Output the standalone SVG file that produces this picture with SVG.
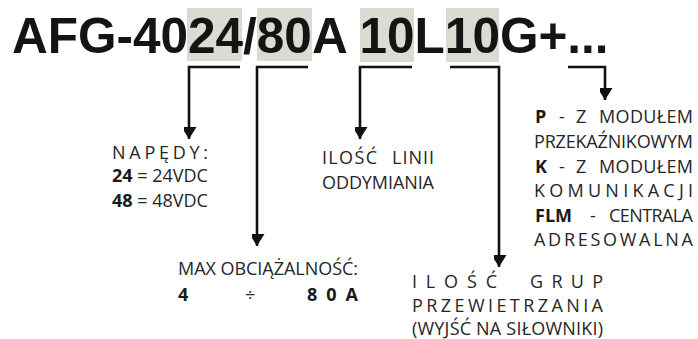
<svg xmlns="http://www.w3.org/2000/svg" width="698" height="339" viewBox="0 0 698 339">
  <defs>
    <marker id="arr" markerUnits="userSpaceOnUse" markerWidth="16" markerHeight="13" refX="12" refY="7.5" orient="auto">
      <path d="M0,0 L12,7.5 L0,15 Z" fill="#111"/>
    </marker>
    <style>
      .hl { fill: #dcdbd3; }
      .title { font-family: "Liberation Sans", Arial, sans-serif; font-weight: bold; font-size: 49.5px; fill: #141414; }
      .lbl { font-family: "Open Sans", "Noto Sans", sans-serif; font-size: 18px; fill: #262626; }
      .b { font-weight: bold; fill: #1a1a1a; }
      .conn { fill: none; stroke: #111; stroke-width: 2.6; }
    </style>
  </defs>
  <rect width="698" height="339" fill="#fff"/>

  <g id="header">
    <rect class="hl" x="187" y="8" width="55" height="53"/>
    <rect class="hl" x="257" y="8" width="55" height="53"/>
    <rect class="hl" x="360" y="8" width="54" height="54"/>
    <rect class="hl" x="446" y="8" width="53" height="54"/>
    <text class="title" x="12" y="53">AFG-4024/80A 10L10G+...</text>
  </g>

  <g id="connectors">
    <path class="conn" d="M240,67 H189 V139" marker-end="url(#arr)"/>
    <path class="conn" d="M308,67 H257 V246" marker-end="url(#arr)"/>
    <path class="conn" d="M412,67 H360 V139" marker-end="url(#arr)"/>
    <path class="conn" d="M450,67 H499 V267" marker-end="url(#arr)"/>
    <path class="conn" d="M568,67 H605 V100" marker-end="url(#arr)"/>
  </g>

  <g id="napedy">
    <text class="lbl" x="112" y="159" textLength="96" lengthAdjust="spacing">NAPĘDY:</text>
    <text class="lbl" x="112" y="182"><tspan class="b">24</tspan> = 24VDC</text>
    <text class="lbl" x="112" y="207"><tspan class="b">48</tspan> = 48VDC</text>
  </g>

  <g id="linie">
    <text class="lbl" x="322" y="164" textLength="55" lengthAdjust="spacing">ILOŚĆ</text>
    <text class="lbl" x="392" y="164" textLength="42" lengthAdjust="spacing">LINII</text>
    <text class="lbl" x="322" y="189" textLength="112" lengthAdjust="spacing">ODDYMIANIA</text>
  </g>

  <g id="obciazalnosc">
    <text class="lbl" x="178" y="275" textLength="180" lengthAdjust="spacing">MAX OBCIĄŻALNOŚĆ:</text>
    <text class="lbl b" x="178" y="301">4</text>
    <text class="lbl" x="245" y="301">÷</text>
    <text class="lbl b" x="307" y="301" textLength="51" lengthAdjust="spacing">80A</text>
  </g>

  <g id="grupy">
    <text class="lbl" x="412" y="288" textLength="85" lengthAdjust="spacing">ILOŚĆ</text>
    <text class="lbl" x="530" y="288" textLength="73" lengthAdjust="spacing">GRUP</text>
    <text class="lbl" x="412" y="312" textLength="191" lengthAdjust="spacing">PRZEWIETRZANIA</text>
    <text class="lbl" x="412" y="335" textLength="191" lengthAdjust="spacing">(WYJŚĆ NA SIŁOWNIKI)</text>
  </g>

  <g id="opcje">
    <text class="lbl b" x="535" y="123">P</text>
    <text class="lbl" x="559" y="123">-</text>
    <text class="lbl" x="576" y="123">Z</text>
    <text class="lbl" x="599" y="123" textLength="94" lengthAdjust="spacing">MODUŁEM</text>
    <text class="lbl" x="534" y="148" textLength="159" lengthAdjust="spacing">PRZEKAŹNIKOWYM</text>
    <text class="lbl b" x="535" y="173">K</text>
    <text class="lbl" x="559" y="173">-</text>
    <text class="lbl" x="576" y="173">Z</text>
    <text class="lbl" x="599" y="173" textLength="94" lengthAdjust="spacing">MODUŁEM</text>
    <text class="lbl" x="534" y="197" textLength="159" lengthAdjust="spacing">KOMUNIKACJI</text>
    <text class="lbl b" x="535" y="222">FLM</text>
    <text class="lbl" x="590" y="222">-</text>
    <text class="lbl" x="609" y="222" textLength="84" lengthAdjust="spacing">CENTRALA</text>
    <text class="lbl" x="534" y="246" textLength="159" lengthAdjust="spacing">ADRESOWALNA</text>
  </g>
</svg>
